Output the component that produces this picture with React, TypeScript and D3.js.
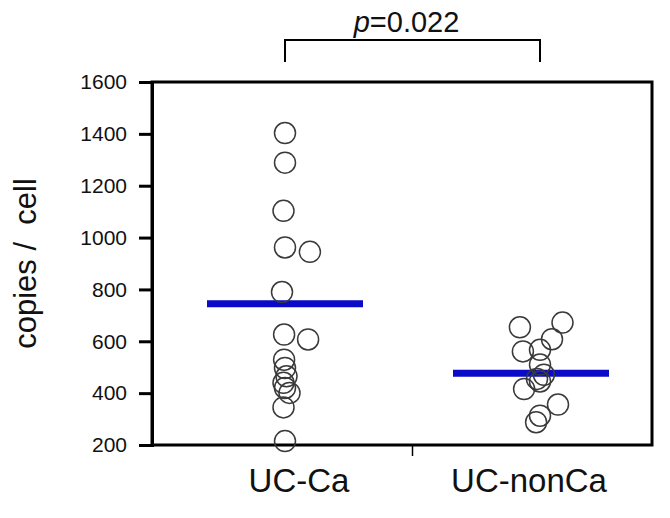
import React, { useEffect, useRef } from "react";
import * as d3 from "d3";

// groups and values
const groups = ["UC-Ca", "UC-nonCa"];
const ucCaValues = [1403, 1289, 1103, 962, 945, 790, 626, 607, 529, 497, 465, 440, 420, 401, 345, 215];
const ucCaJitter = [0, 0, -0.05, 0, 0.83, -0.1, -0.03, 0.77, -0.03, 0, 0.05, -0.05, 0, 0.15, -0.05, 0];
const ucNonCaValues = [672, 654, 608, 567, 561, 510, 471, 455, 445, 416, 356, 313, 288];
const ucNonCaJitter = [0.75, -0.67, 0.4, 0, -0.57, 0, 0.13, -0.1, 0, -0.53, 0.6, 0, -0.13];
const groupMeans = [745, 477];
const yTicks = [200, 400, 600, 800, 1000, 1200, 1400, 1600];
const pLabel = "0.022";

const W = 670;
const H = 518;
const margin = { top: 82, right: 18, bottom: 73, left: 152 };
// small hand offsets seen in the original layout
const labelShift = [14, -11];
const meanShift = [0, -9];

export default function App() {
  const ref = useRef<SVGSVGElement>(null);

  useEffect(() => {
    const svg = d3.select(ref.current);
    svg.selectAll("*").remove();

    const left = margin.left;
    const right = W - margin.right;
    const top = margin.top;
    const bottom = H - margin.bottom;

    const y = d3.scaleLinear().domain([200, 1600]).range([bottom, top]);
    const x = d3.scalePoint().domain(groups).range([left + 133, right - 112]);
    const jitter = d3.scaleLinear().domain([-1, 1]).range([-30, 30]);

    const font = "Liberation Sans, Arial, sans-serif";

    // frame
    svg.append("rect")
      .attr("x", left).attr("y", top)
      .attr("width", right - left).attr("height", bottom - top)
      .attr("fill", "none").attr("stroke", "#000").attr("stroke-width", 3);

    // y axis
    const yAxis = svg.append("g")
      .attr("transform", `translate(${left},0)`)
      .call(d3.axisLeft(y).tickValues(yTicks).tickSize(13).tickPadding(12).tickFormat(d3.format("d")));
    yAxis.select(".domain").attr("stroke-width", 3);
    yAxis.selectAll(".tick line").attr("stroke-width", 3);
    yAxis.selectAll(".tick text")
      .attr("font-family", font).attr("font-size", 21).attr("fill", "#111");

    // middle x tick
    const mid = ((x(groups[0]) as number) + (x(groups[1]) as number)) / 2;
    svg.append("line")
      .attr("x1", mid).attr("x2", mid)
      .attr("y1", bottom).attr("y2", bottom + 11)
      .attr("stroke", "#000").attr("stroke-width", 1.5);

    // category labels
    svg.selectAll(".cat")
      .data(groups)
      .join("text")
      .attr("class", "cat")
      .attr("x", (d, i) => (x(d) as number) + labelShift[i])
      .attr("y", bottom + 47)
      .attr("text-anchor", "middle")
      .attr("font-family", font).attr("font-size", 33).attr("fill", "#111")
      .text(d => d);

    // points
    const pts = [
      ...ucCaValues.map((v, i) => ({ g: groups[0], v, j: ucCaJitter[i] })),
      ...ucNonCaValues.map((v, i) => ({ g: groups[1], v, j: ucNonCaJitter[i] })),
    ];

    // mean bars
    svg.selectAll(".mean")
      .data(groups)
      .join("line")
      .attr("class", "mean")
      .attr("x1", (d, i) => (x(d) as number) + meanShift[i] - 78)
      .attr("x2", (d, i) => (x(d) as number) + meanShift[i] + 78)
      .attr("y1", (d, i) => y(groupMeans[i]))
      .attr("y2", (d, i) => y(groupMeans[i]))
      .attr("stroke", "#0a0ac8").attr("stroke-width", 7);

    svg.selectAll(".pt")
      .data(pts)
      .join("circle")
      .attr("class", "pt")
      .attr("cx", d => (x(d.g) as number) + jitter(d.j))
      .attr("cy", d => y(d.v))
      .attr("r", 10.5)
      .attr("fill", "none")
      .attr("stroke", "#3a3a3a")
      .attr("stroke-width", 1.5);

    // y label
    svg.append("text")
      .attr("transform", `translate(36, ${(top + bottom) / 2}) rotate(-90)`)
      .attr("text-anchor", "middle")
      .attr("font-family", font).attr("font-size", 31).attr("fill", "#111")
      .attr("xml:space", "preserve")
      .style("white-space", "pre")
      .text("copies /  cell");

    // significance bracket
    const x0 = x(groups[0]) as number;
    const x1 = x(groups[1]) as number;
    svg.append("path")
      .attr("d", `M${x0},62V40H${x1}V62`)
      .attr("fill", "none").attr("stroke", "#000").attr("stroke-width", 2);

    const p = svg.append("text")
      .attr("x", (x0 + x1) / 2 - 6)
      .attr("y", 32)
      .attr("text-anchor", "middle")
      .attr("font-family", font).attr("font-size", 29).attr("fill", "#111");
    p.append("tspan").attr("font-style", "italic").text("p");
    p.append("tspan").text("=" + pLabel);
  }, []);

  return (
    <div style={{ position: "absolute", left: 0, top: 0 }}>
      <svg ref={ref} width={W} height={H} style={{ display: "block", background: "#fff" }} />
    </div>
  );
}
